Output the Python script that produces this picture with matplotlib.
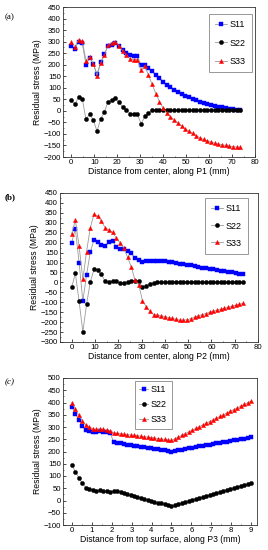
import numpy as np
import matplotlib
matplotlib.use("Agg")
import matplotlib.pyplot as plt
from matplotlib.ticker import MultipleLocator

plt.rcParams['font.family'] = ['Liberation Sans', 'DejaVu Sans']

# ---------------- Panel (a) ----------------
xa = np.arange(47) * 1.6
a_s11 = [280, 270, 300, 292, 200, 230, 205, 158, 210, 245, 282, 287, 295, 280, 265, 250,
         240, 237, 238, 197, 197, 185, 172, 157, 142, 127, 114, 103, 92, 82, 73, 65,
         58, 51, 45, 40, 35, 30, 26, 22, 18, 15, 12, 9, 7, 5, 3]
a_s22 = [45, 28, 60, 52, -37, -15, -40, -88, -35, -5, 40, 48, 55, 38, 17, 3,
         -12, -14, -14, -57, -24, -10, 2, 2, 2, 2, 2, 2, 2, 2, 2, 2,
         2, 2, 2, 2, 2, 2, 2, 2, 2, 2, 2, 2, 2, 2, 2]
a_s33 = [298, 278, 308, 302, 218, 233, 205, 153, 207, 240, 285, 295, 300, 282, 260, 242,
         225, 222, 222, 175, 195, 155, 115, 75, 40, 12, -10, -25, -38, -52, -65, -77,
         -88, -98, -108, -116, -124, -130, -135, -140, -144, -147, -150, -153, -155, -157, -157]

# ---------------- Panel (b) ----------------
xb = np.arange(47) * 1.6
b_s11 = [200, 268, 100, -95, 38, 152, 215, 202, 187, 183, 203, 207, 180, 170, 168, 158,
         147, 122, 112, 105, 110, 110, 110, 110, 110, 107, 104, 101, 98, 95, 92, 89,
         86, 82, 79, 75, 72, 69, 66, 62, 59, 56, 53, 50, 46, 43, 40]
b_s22 = [-25, 45, -95, -248, -110, 2, 65, 62, 40, 5, 4, 5, 6, -2, -4, 2,
         6, 5, 5, -22, -18, -8, -2, 3, 3, 1, 0, 0, 0, 0, 0, 0,
         0, 0, 0, 0, 0, 0, 0, 0, 0, 0, 0, 0, 0, 0, 0]
b_s33 = [245, 312, 183, 15, 155, 275, 343, 333, 308, 275, 265, 252, 222, 200, 172, 127,
         78, 12, -12, -92, -122, -145, -162, -165, -168, -172, -177, -181, -186, -190, -190, -188,
         -182, -175, -168, -162, -157, -150, -145, -140, -135, -130, -125, -120, -115, -110, -106]

# ---------------- Panel (c) ----------------
xc = np.concatenate([np.arange(12) * 0.175, np.linspace(2.1, 5.0, 18), np.linspace(5.0, 9.0, 24)[1:]])
c_s11 = [380, 355, 328, 305, 288, 285, 280, 280, 282, 280, 278, 275,
         237, 235, 233, 231, 228.5, 226, 224, 222, 220, 218, 216, 213.5, 211, 209, 207, 205, 202, 200,
         203, 205.5, 208, 210.5, 213, 215.5, 218, 220.5, 223, 225.5, 228, 230.5, 233, 235.5, 238,
         240.5, 243, 245.5, 248, 250.5, 253, 256, 260]
c_s22 = [143, 118, 92, 70, 53, 47, 42, 40, 42, 40, 37, 35,
         40, 37, 33, 29, 25, 21, 17.5, 14, 10, 6.5, 3, -1, -5, -8.5, -12, -15.5, -19, -23,
         -19, -15, -11, -6.5, -2.5, 1.5, 6, 10, 14, 18, 22.5, 26.5, 31, 35, 39,
         43, 47.5, 51.5, 55.5, 60, 64, 68, 72]
c_s33 = [400, 373, 347, 325, 308, 300, 293, 290, 292, 290, 287, 283,
         276, 274, 272.5, 271, 269, 267, 265.5, 264, 262, 260.5, 258.5, 257, 255, 253, 251, 249, 247, 245,
         252, 259, 266, 273, 280, 287, 294, 301, 308, 315, 322, 329, 336, 343, 350,
         357, 364, 371, 378, 385, 392, 399, 405]

labels = ['S11', 'S22', 'S33']
markers = ['s', 'o', '^']
colors = ['#0000ff', '#000000', '#ff0000']

W, H = 268, 550
fig = plt.figure(figsize=(W / 100, H / 100), dpi=100)


def box(l, t, r, b):
    return [l / W, 1 - b / H, (r - l) / W, (b - t) / H]


def panel(rect, x, series, xlim, ylim, ystep, xstep, xlabel, tag, tagstyle, tagy,
          legloc, bbox, lspace, hlen=1.3, bpad=0.7):
    ax = fig.add_axes(rect)
    for y, lab, m, c in zip(series, labels, markers, colors):
        ax.plot(x, y, color='#9a9a9a', lw=0.6, marker=m, ms=3.0, mfc=c, mec=c,
                mew=0.3, label=lab, zorder=3)
    ax.set_xlim(*xlim)
    ax.set_ylim(*ylim)
    ax.yaxis.set_major_locator(MultipleLocator(ystep))
    ax.xaxis.set_major_locator(MultipleLocator(xstep))
    ax.xaxis.set_minor_locator(MultipleLocator(xstep / 2))
    ax.yaxis.set_minor_locator(MultipleLocator(ystep / 2))
    ax.tick_params(which='both', direction='in', labelsize=5.6, pad=1.5)
    ax.tick_params(which='major', length=2, width=0.5)
    ax.tick_params(which='minor', length=1, width=0.4)
    ax.tick_params(top=False, right=False, which='both')
    for s in ax.spines.values():
        s.set_linewidth(0.6)
        s.set_color('#333333')
    ax.set_xlabel(xlabel, fontsize=6.2, labelpad=0.5)
    ax.set_ylabel('Residual stress (MPa)', fontsize=6.2, labelpad=1)
    leg = ax.legend(loc=legloc, bbox_to_anchor=bbox, fontsize=6.5, frameon=True,
                    fancybox=False, edgecolor='#888888', handlelength=hlen,
                    labelspacing=lspace, borderpad=bpad, handletextpad=0.3,
                    borderaxespad=0.0, framealpha=1.0)
    leg.get_frame().set_linewidth(0.6)
    fig.text(5 / W, 1 - tagy / H, tag, fontsize=6.5, va='center',
             family='Liberation Serif', **tagstyle)
    return ax


panel(box(63, 7, 255, 157), xa, [a_s11, a_s22, a_s33], (-3.6, 80), (-200, 450), 50, 10,
      'Distance from center, along P1 (mm)', '(a)', {}, 17,
      'upper right', (0.985, 0.955), 1.05)
panel(box(60, 193, 258, 342), xb, [b_s11, b_s22, b_s33], (-5, 80), (-300, 450), 50, 10,
      'Distance from center, along P2 (mm)', '(b)', {'weight': 'bold'}, 197,
      'upper right', (0.95, 0.966), 0.9)
panel(box(63, 378, 257, 525), xc, [c_s11, c_s22, c_s33], (-0.45, 9.3), (-100, 500), 50, 1,
      'Distance from top surface, along P3 (mm)', '(c)', {'style': 'italic'}, 382,
      'upper left', (0.37, 0.98), 0.65, 1.0, 0.5)

fig.savefig('out.png', dpi=100)
